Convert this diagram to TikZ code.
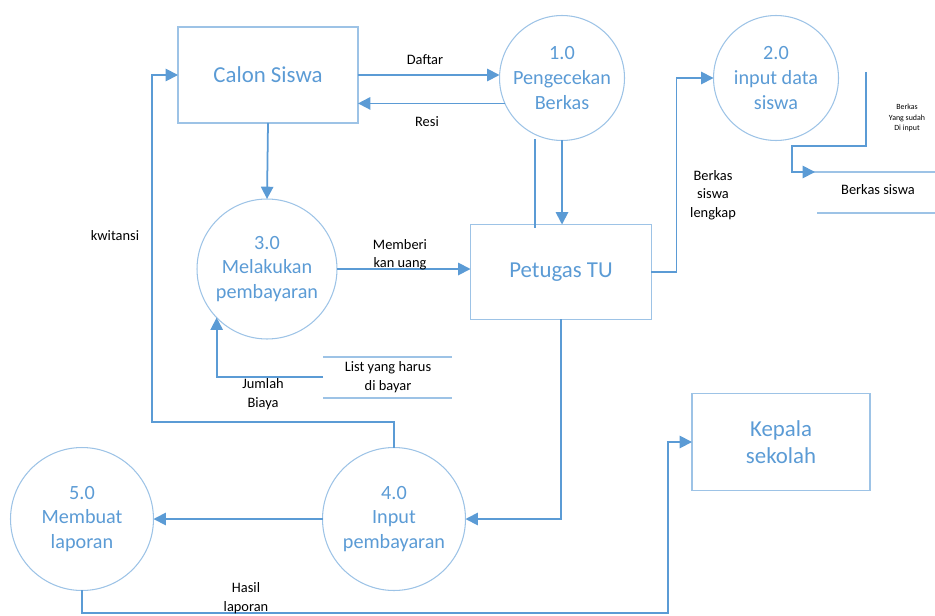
\documentclass[tikz,border=0pt]{standalone}
\usepackage{fontspec}
\setmainfont{Carlito}
\usetikzlibrary{arrows.meta}
\usepackage{xcolor}
\definecolor{dfdblue}{RGB}{91,155,213}
\definecolor{dfdline}{RGB}{157,195,230}

\tikzset{
	proses/.style={circle, draw=dfdline, line width=0.6pt, inner sep=0pt, outer sep=0pt, text=dfdblue, align=center, font=\fontsize{11.5}{14}\selectfont},
	entitas/.style={rectangle, draw=dfdline, line width=0.9pt, inner sep=0pt, outer sep=0pt, text=dfdblue, align=center, font=\fontsize{13}{15.5}\selectfont},
	alir/.style={draw=dfdblue, line width=1pt, -{Triangle[length=7pt,width=7pt]}},
	garis/.style={draw=dfdblue, line width=1pt},
	simpan/.style={draw=dfdline, line width=1.2pt},
	ket/.style={align=center, font=\fontsize{8.2}{10.5}\selectfont},
}

\begin{document}
\begin{tikzpicture}[x=0.02cm, y=-0.02cm]
	\useasboundingbox (0,0) rectangle (935,615);

	% entitas luar
	\node[entitas, minimum width=3.6cm, minimum height=1.92cm] (calon) at (268,75) {Calon Siswa};
	\node[entitas, minimum width=3.62cm, minimum height=1.9cm] (tu) at (561,272) {Petugas TU};
	\node[entitas, minimum width=3.56cm, minimum height=1.94cm] (kepala) at (781,442) {Kepala\\sekolah};

	% proses
	\node[proses, minimum size=2.5cm] (cek) at (562,78) {1.0\\Pengecekan\\Berkas};
	\node[proses, minimum size=2.5cm] (input) at (776,78) {2.0\\input data\\siswa};
	\node[proses, minimum size=2.8cm] (bayar) at (267,269) {3.0\\Melakukan\\pembayaran};
	\node[proses, minimum size=2.86cm] (inbayar) at (394,519) {4.0\\Input\\pembayaran};
	\node[proses, minimum size=2.86cm] (lapor) at (82,519) {5.0\\Membuat\\laporan};

	% data store
	\draw[simpan] (792,172) -- (935,172);
	\draw[simpan] (817,213) -- (935,213);
	\node[ket] (berkas) at (878,190) {Berkas siswa};
	\draw[simpan] (323,357) -- (452,357);
	\draw[simpan] (323,398) -- (452,398);
	\node[ket] (list) at (388,377) {List yang harus\\di bayar};
	\coordinate (liststore) at (323,377);

	% alur data
	\draw[alir] (calon.east) -- (calon.east -| cek.west);
	\draw[alir] (cek.204) -- (calon.east |- cek.204);
	\draw[alir] (calon.south) -- (bayar.north);
	\draw[garis] (535,139) -- (535,228);
	\draw[alir] (cek.south) -- (cek.south |- tu.north);
	\draw[alir] (tu.east) -- ++(25,0) |- (input.west);
	\coordinate (keluar) at (866,72);
	\draw[alir] (keluar) |- (792,146) |- (815,172);
	\draw[alir] (bayar.east) -- (bayar.east -| tu.west);
	\draw[alir] (liststore) -| (bayar.224);
	\draw[alir] (inbayar.north) |- (152,422) |- (calon.west);
	\draw[alir] (tu.south) |- (inbayar.east);
	\draw[alir] (inbayar.west) -- (lapor.east);
	\draw[alir] (lapor.south) |- (668,613) |- (kepala.west);

	% keterangan
	\node[ket] at (425,60) {Daftar};
	\node[ket] at (427,122) {Resi};
	\node[ket] at (713,195) {Berkas\\siswa\\lengkap};
	\node[align=center, font=\fontsize{4.5}{6}\selectfont] at (907,118) {Berkas\\Yang sudah\\Di input};
	\node[ket] at (400,255) {Memberi\\kan uang};
	\node[ket] at (263,394) {Jumlah\\Biaya};
	\node[ket] at (115,236) {kwitansi};
	\node[ket] at (246,598) {Hasil\\laporan};
\end{tikzpicture}
\end{document}
